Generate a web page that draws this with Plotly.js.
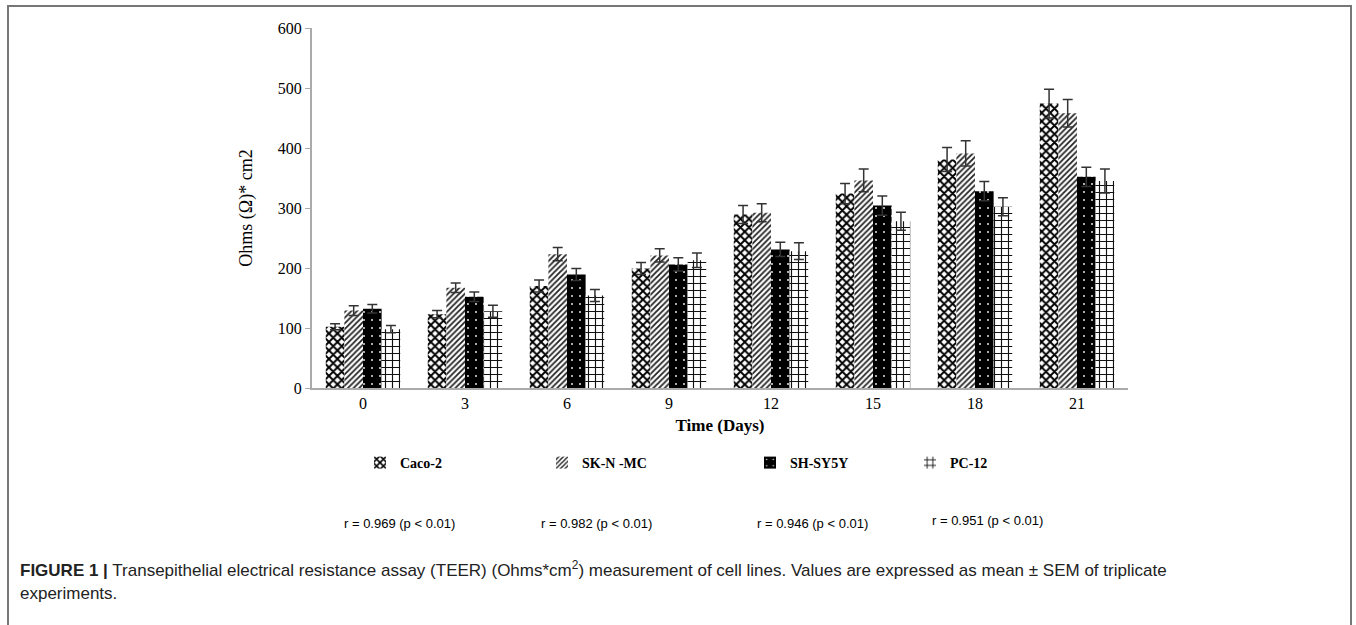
<!DOCTYPE html>
<html>
<head>
<meta charset="utf-8">
<script src="https://cdn.plot.ly/plotly-3.0.1.min.js"></script>
<style>
  html, body { margin: 0; padding: 0; background: #fff; }
  #wrap { position: relative; width: 1356px; height: 625px; }
  #frame { position: absolute; left: 7px; top: 5px; width: 1345px; height: 640px;
           border-top: 2px solid #777; border-left: 2px solid #777; border-right: 2px solid #777; box-sizing: border-box; pointer-events: none; }
  #chart { position: absolute; left: 0; top: 0; width: 1356px; height: 625px; }
</style>
</head>
<body>
<div id="wrap">
  <div id="chart"></div>
  <div id="frame"></div>
</div>
<script>
// ---- data ----
const days = ['0', '3', '6', '9', '12', '15', '18', '21'];
const seriesNames = ['Caco-2', 'SK-N -MC', 'SH-SY5Y', 'PC-12'];
const caco2   = [102, 123, 170, 199, 289, 324, 381, 474];
const caco2Err   = [5, 6, 10, 10, 15, 17, 20, 24];
const sknmc   = [129, 167, 223, 221, 292, 346, 391, 458];
const sknmcErr   = [8, 8, 11, 11, 15, 19, 21, 23];
const shsy5y  = [132, 152, 189, 206, 231, 304, 328, 352];
const shsy5yErr  = [7, 8, 10, 11, 12, 16, 16, 16];
const pc12    = [98, 128, 154, 213, 228, 278, 302, 345];
const pc12Err    = [6, 10, 10, 12, 14, 15, 15, 20];
const rLabels = ['r = 0.969 (p < 0.01)', 'r = 0.982 (p < 0.01)', 'r = 0.946 (p < 0.01)', 'r = 0.951 (p < 0.01)'];
const yTicks = [0, 100, 200, 300, 400, 500, 600];

const errStyle = (arr) => ({ type: 'data', array: arr, visible: true, color: '#333', thickness: 1.5, width: 5 });

const traces = [
  { type: 'bar', name: seriesNames[0], x: days, y: caco2, error_y: errStyle(caco2Err), legend: 'legend',
    marker: { color: '#fff', line: { width: 0 }, pattern: { shape: 'x', fgcolor: '#000', bgcolor: '#fff', size: 6, solidity: 0.55 } } },
  { type: 'bar', name: seriesNames[1], x: days, y: sknmc, error_y: errStyle(sknmcErr), legend: 'legend2',
    marker: { color: '#fff', line: { width: 0 }, pattern: { shape: '/', fgcolor: '#222', bgcolor: '#fff', size: 4, solidity: 0.45 } } },
  { type: 'bar', name: seriesNames[2], x: days, y: shsy5y, error_y: errStyle(shsy5yErr), legend: 'legend3',
    marker: { color: '#000', line: { width: 0 }, pattern: { shape: '.', fgcolor: '#fff', bgcolor: '#000', size: 8, solidity: 0.04 } } },
  { type: 'bar', name: seriesNames[3], x: days, y: pc12, error_y: errStyle(pc12Err), legend: 'legend4',
    marker: { color: '#fff', line: { width: 0 }, pattern: { shape: '+', fgcolor: '#111', bgcolor: '#fff', size: 7, solidity: 0.3 } } }
];

const L = 312, R = 1128, T = 28, B = 388;
const px2x = (px) => (px - L) / (R - L);
const px2y = (py) => (B - py) / (B - T);

const legFont = { family: 'Liberation Serif, Times New Roman, serif', size: 14, color: '#000', weight: 'bold' };
const mkLegend = (xpx) => ({ x: px2x(xpx), y: px2y(463), xanchor: 'left', yanchor: 'middle', orientation: 'h',
  font: legFont, bgcolor: 'rgba(0,0,0,0)', borderwidth: 0 });

const rCenters = [399, 596, 812, 987];
const rYs = [523, 523, 523, 520];
const annotations = rLabels.map((t, i) => ({
  text: t, xref: 'paper', yref: 'paper', x: px2x(rCenters[i]), y: px2y(rYs[i]), xanchor: 'center', yanchor: 'middle',
  showarrow: false, font: { family: 'Liberation Sans, Arial, sans-serif', size: 13, color: '#000' }
}));
annotations.push({
  text: '<b>FIGURE 1 |</b> Transepithelial electrical resistance assay (TEER) (Ohms*cm<sup>2</sup>) measurement of cell lines. Values are expressed as mean ± SEM of triplicate',
  xref: 'paper', yref: 'paper', x: px2x(18), y: px2y(569), xanchor: 'left', yanchor: 'middle', showarrow: false,
  font: { family: 'Liberation Sans, Arial, sans-serif', size: 17, color: '#222' }
});
annotations.push({
  text: 'experiments.',
  xref: 'paper', yref: 'paper', x: px2x(18), y: px2y(593), xanchor: 'left', yanchor: 'middle', showarrow: false,
  font: { family: 'Liberation Sans, Arial, sans-serif', size: 17, color: '#222' }
});

const layout = {
  width: 1356, height: 625,
  margin: { l: L, r: 1356 - R, t: T, b: 625 - B, pad: 0 },
  paper_bgcolor: '#fff', plot_bgcolor: '#fff',
  barmode: 'group', bargap: 0.27, bargroupgap: 0,
  showlegend: true,
  legend: mkLegend(360),
  legend2: mkLegend(542),
  legend3: mkLegend(750),
  legend4: mkLegend(910),
  xaxis: {
    type: 'category', showgrid: false, zeroline: false, showline: true, linecolor: '#aaa', linewidth: 2,
    ticks: '', tickfont: { family: 'Liberation Serif, Times New Roman, serif', size: 16, color: '#000' },
    title: { text: '<b>Time (Days)</b>', font: { family: 'Liberation Serif, Times New Roman, serif', size: 17, color: '#000' }, standoff: 8 }
  },
  yaxis: {
    range: [0, 600], tickvals: yTicks, showgrid: false, zeroline: false, showline: true, linecolor: '#aaa', linewidth: 2,
    ticks: 'outside', ticklen: 5, tickcolor: '#aaa', tickwidth: 1,
    tickfont: { family: 'Liberation Serif, Times New Roman, serif', size: 16, color: '#000' },
    title: { text: 'Ohms (Ω)* cm2', font: { family: 'Liberation Serif, Times New Roman, serif', size: 18, color: '#000' }, standoff: 20 }
  },
  annotations: annotations
};

Plotly.newPlot('chart', traces, layout, { displayModeBar: false, staticPlot: true });
</script>
</body>
</html>
